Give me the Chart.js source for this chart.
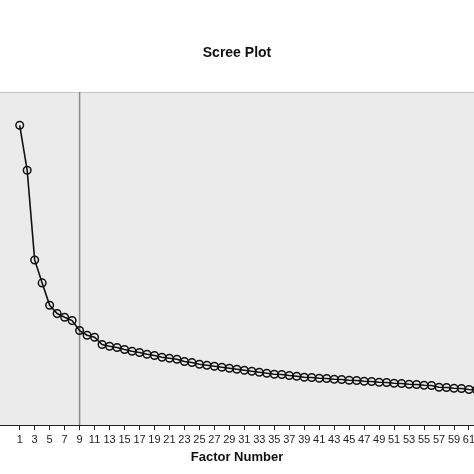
<!DOCTYPE html>
<html>
<head>
<meta charset="utf-8">
<script src="https://cdn.jsdelivr.net/npm/chart.js@4"></script>
<style>
  html, body { margin: 0; padding: 0; background: #fff; }
  #wrap { width: 474px; height: 474px; }
</style>
</head>
<body>
<div id="wrap"><canvas id="screeChart"></canvas></div>
<script>
// factor numbers and eigenvalues
const factors = [];
for (let i = 1; i <= 62; i++) factors.push(i);
const eigenvalues = [
  9.00, 7.65, 4.96, 4.27, 3.60, 3.35, 3.24, 3.14, 2.84, 2.70,
  2.64, 2.42, 2.37, 2.33, 2.27, 2.22, 2.18, 2.13, 2.09, 2.04,
  2.01, 1.98, 1.91, 1.88, 1.83, 1.80, 1.77, 1.74, 1.71, 1.68,
  1.65, 1.62, 1.59, 1.56, 1.53, 1.52, 1.49, 1.47, 1.44, 1.43,
  1.41, 1.40, 1.38, 1.37, 1.35, 1.34, 1.32, 1.31, 1.29, 1.28,
  1.26, 1.25, 1.23, 1.22, 1.20, 1.19, 1.14, 1.13, 1.11, 1.10,
  1.07, 1.06
];
const tickValues = [];
for (let t = 1; t <= 61; t += 2) tickValues.push(t);
const cutoffFactor = 9;

// grey plot background, top border and the reference line
const plotDecor = {
  id: 'plotDecor',
  beforeDraw(chart) {
    const { ctx, chartArea: a, scales } = chart;
    ctx.save();
    ctx.fillStyle = '#ebebeb';
    ctx.fillRect(a.left, a.top, a.right - a.left, a.bottom - a.top);
    ctx.strokeStyle = '#c4c4c4';
    ctx.lineWidth = 1;
    ctx.beginPath();
    ctx.moveTo(a.left, a.top + 0.5);
    ctx.lineTo(a.right, a.top + 0.5);
    ctx.stroke();
    const x = scales.x.getPixelForValue(cutoffFactor);
    ctx.strokeStyle = '#8c8c8c';
    ctx.lineWidth = 1.5;
    ctx.beginPath();
    ctx.moveTo(x, a.top);
    ctx.lineTo(x, a.bottom);
    ctx.stroke();
    ctx.restore();
  }
};

const ctx = document.getElementById('screeChart').getContext('2d');
new Chart(ctx, {
  type: 'line',
  data: {
    datasets: [{
      data: factors.map((f, i) => ({ x: f, y: eigenvalues[i] })),
      borderColor: '#111',
      borderWidth: 1.6,
      pointRadius: 3.8,
      pointBorderWidth: 1.5,
      pointBorderColor: '#111',
      pointBackgroundColor: 'rgba(0,0,0,0)',
      tension: 0
    }]
  },
  options: {
    responsive: true,
    maintainAspectRatio: false,
    animation: false,
    layout: { padding: 0, autoPadding: false },
    plugins: {
      legend: { display: false },
      tooltip: { enabled: false },
      title: {
        display: true,
        text: 'Scree Plot',
        color: '#111',
        font: { family: 'Liberation Sans, Arial', size: 14, weight: 'bold' },
        padding: { top: 44.6, bottom: 30.6 }
      }
    },
    scales: {
      x: {
        type: 'linear',
        min: -1.63,
        max: 61.67,
        afterBuildTicks(axis) {
          axis.ticks = tickValues.map(v => ({ value: v }));
        },
        afterFit(axis) {
          // plot runs right to the edges, as in the cropped original
          axis.paddingLeft = 0;
          axis.paddingRight = 0;
        },
        grid: { display: true, drawOnChartArea: false, drawTicks: true, tickLength: 5, color: '#222', lineWidth: 1 },
        border: { display: true, color: '#222', width: 1 },
        ticks: {
          autoSkip: false,
          maxRotation: 0,
          padding: 3,
          color: '#222',
          font: { family: 'Liberation Sans, Arial', size: 11 }
        },
        title: {
          display: true,
          text: 'Factor Number',
          color: '#111',
          font: { family: 'Liberation Sans, Arial', size: 13, weight: 'bold' },
          padding: { top: 0, bottom: 9 }
        }
      },
      y: {
        display: false,
        min: 0,
        max: 10
      }
    }
  },
  plugins: [plotDecor]
});
</script>
</body>
</html>
